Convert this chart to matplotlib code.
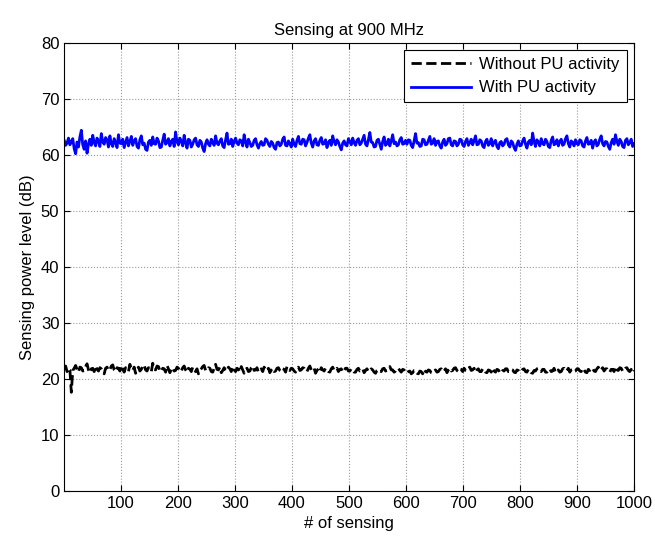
import numpy as np
import matplotlib
matplotlib.use("Agg")
import matplotlib.pyplot as plt

plt.rcParams['font.family'] = ['Liberation Sans', 'DejaVu Sans']

# sensing power level (dB), 40 readings per 100 sensings
with_pu = [
    62.6, 61.7, 62.1, 63.0, 61.8, 62.4, 62.9, 61.1, 60.2, 62.3, 61.4, 63.2, 64.4, 61.8, 61.0, 62.5, 60.3, 61.9, 62.8, 61.7,
    63.5, 62.2, 61.6, 63.0, 62.4, 61.5, 63.8, 62.3, 61.9, 63.1, 62.7, 61.4, 63.4, 62.0, 61.5, 62.9, 62.2, 61.3, 63.6, 62.1,
    62.0, 62.8, 61.3, 62.2, 63.1, 61.6, 62.4, 63.3, 61.7, 62.5, 62.9, 61.5, 61.2, 62.7, 63.4, 61.8, 62.1, 61.0, 60.8, 62.3,
    62.6, 61.7, 63.2, 62.0, 61.9, 63.0, 62.5, 61.3, 61.4, 62.6, 63.7, 61.9, 62.2, 62.9, 61.6, 62.4, 62.8, 61.5, 64.1, 62.3,
    61.8, 63.0, 62.4, 61.6, 63.5, 62.2, 61.2, 62.8, 62.6, 61.4, 61.9, 62.7, 63.0, 61.8, 61.5, 62.6, 62.3, 61.2, 60.6, 62.0,
    62.7, 61.9, 61.6, 62.8, 62.2, 61.7, 63.4, 62.1, 61.8, 62.5, 62.9, 61.6, 61.3, 62.7, 63.9, 61.9, 62.0, 62.8, 61.5, 62.4,
    63.0, 62.1, 61.8, 62.7, 62.5, 61.6, 63.6, 62.3, 61.4, 62.8, 62.2, 61.5, 61.7, 62.6, 62.9, 61.8, 61.2, 62.0, 62.4, 61.7,
    61.8, 62.9, 62.6, 61.9, 61.5, 62.4, 62.1, 61.3, 61.0, 62.2, 62.3, 61.6, 61.9, 62.8, 63.2, 61.7, 61.6, 62.5, 62.0, 61.4,
    62.8, 61.9, 61.5, 62.6, 63.3, 62.0, 61.9, 62.8, 62.7, 61.6, 62.2, 63.0, 63.6, 62.1, 61.4, 62.5, 62.9, 61.8, 61.7, 62.6,
    63.1, 61.9, 62.0, 62.7, 61.3, 62.2, 62.6, 61.7, 63.4, 62.4, 61.8, 62.7, 62.3, 61.5, 60.9, 62.1, 62.5, 61.8, 61.6, 62.9,
    62.4, 61.8, 63.0, 62.2, 61.7, 62.6, 62.9, 61.8, 62.1, 62.8, 63.5, 61.9, 61.6, 62.7, 64.0, 62.3, 62.2, 61.4, 61.5, 62.6,
    62.8, 61.9, 61.0, 62.4, 63.2, 61.7, 62.0, 62.8, 61.6, 62.5, 63.6, 62.0, 62.3, 61.6, 61.8, 62.7, 63.1, 61.9, 62.0, 62.6,
    61.9, 62.7, 62.6, 61.7, 61.3, 62.5, 63.8, 62.1, 62.2, 61.5, 61.6, 62.8, 62.7, 61.8, 61.9, 62.6, 63.3, 61.9, 62.1, 62.9,
    61.7, 62.4, 62.5, 61.6, 61.2, 62.3, 62.8, 61.7, 62.0, 62.9, 63.0, 61.8, 61.6, 62.5, 62.4, 61.6, 61.9, 62.8, 62.7, 61.8,
    61.5, 62.4, 62.9, 61.7, 62.2, 62.8, 61.8, 62.5, 63.4, 61.8, 61.9, 62.7, 62.5, 61.6, 61.3, 62.4, 62.8, 61.7, 62.0, 62.9,
    61.6, 62.3, 62.6, 61.5, 61.1, 62.2, 62.4, 61.6, 61.9, 62.7, 62.9, 61.8, 61.4, 62.5, 62.2, 61.3, 60.8, 61.9, 62.5, 61.6,
    61.7, 62.5, 63.0, 61.9, 61.2, 62.3, 62.6, 61.8, 63.9, 62.4, 61.5, 62.7, 62.3, 61.6, 62.9, 62.0, 61.8, 62.8, 62.4, 61.5,
    61.3, 62.6, 63.2, 61.8, 62.0, 62.7, 61.6, 62.4, 62.8, 61.7, 61.9, 62.9, 63.4, 62.0, 61.4, 62.5, 62.2, 61.6, 62.7, 62.0,
    61.8, 62.7, 62.5, 61.6, 61.4, 62.5, 63.1, 61.9, 62.0, 62.6, 61.2, 62.3, 62.7, 61.6, 61.9, 62.8, 63.4, 62.0, 61.6, 62.4,
    62.3, 61.5, 61.0, 62.2, 62.8, 61.9, 63.6, 62.4, 61.7, 62.8, 62.4, 61.5, 61.3, 62.6, 62.9, 61.8, 62.2, 62.8, 61.5, 62.0,
]
without_pu = [
    21.8, 22.3, 21.3, 21.9, 21.6, 17.6, 21.5, 21.9, 22.4, 21.7, 21.2, 22.1, 22.0, 21.4, 21.5, 22.2, 22.7, 21.6, 21.1, 21.8,
    21.9, 21.3, 22.3, 21.7, 21.4, 22.0, 21.8, 21.2, 20.9, 21.9, 22.1, 21.5, 21.6, 22.3, 22.5, 21.6, 21.3, 22.0, 21.9, 21.4,
    22.4, 21.7, 21.2, 22.0, 21.8, 21.3, 22.6, 21.8, 21.5, 22.1, 21.0, 21.6, 22.1, 21.4, 21.7, 22.3, 22.5, 21.6, 21.4, 22.0,
    21.9, 21.3, 22.8, 21.7, 21.6, 22.3, 22.2, 21.5, 21.3, 21.9, 21.8, 21.2, 22.4, 21.8, 21.1, 21.7, 22.0, 21.4, 21.5, 22.1,
    21.9, 21.3, 21.4, 22.0, 22.3, 21.6, 21.2, 21.9, 21.7, 21.3, 22.1, 21.6, 21.3, 21.8, 20.9, 21.5, 21.8, 22.2, 22.4, 21.5,
    21.5, 22.0, 21.9, 21.3, 21.2, 21.9, 22.6, 21.7, 21.6, 22.1, 21.1, 21.5, 22.0, 21.6, 21.4, 22.1, 21.8, 21.3, 22.2, 21.6,
    21.3, 21.9, 21.7, 21.2, 22.2, 21.6, 21.0, 21.7, 21.9, 21.3, 21.4, 22.0, 22.3, 21.5, 21.6, 22.0, 21.2, 21.6, 21.8, 21.3,
    22.1, 21.6, 21.5, 21.9, 21.1, 21.6, 21.9, 21.3, 21.4, 21.9, 22.0, 21.5, 21.3, 21.8, 21.7, 21.2, 22.2, 21.7, 21.5, 21.9,
    21.8, 21.4, 21.2, 21.8, 22.1, 21.5, 21.6, 22.0, 21.9, 21.4, 21.3, 21.9, 22.3, 21.6, 21.5, 21.9, 21.0, 21.5, 21.8, 21.3,
    22.0, 21.6, 21.4, 21.9, 21.7, 21.3, 21.2, 21.8, 22.1, 21.5, 21.6, 21.9, 21.3, 21.7, 21.8, 21.2, 21.5, 21.9, 21.9, 21.4,
    21.4, 21.8, 21.7, 21.2, 21.2, 21.7, 21.9, 21.4, 21.5, 21.8, 21.1, 21.5, 21.8, 21.3, 21.4, 21.8, 21.6, 21.2, 21.0, 21.5,
    21.7, 21.4, 21.3, 21.8, 21.9, 21.4, 21.5, 21.9, 22.2, 21.6, 21.6, 21.2, 21.4, 21.8, 21.9, 21.5, 21.2, 21.7, 21.6, 21.2,
    21.0, 21.3, 21.4, 20.9, 21.1, 21.5, 21.5, 21.0, 20.9, 21.4, 21.3, 20.9, 21.7, 21.3, 21.2, 21.6, 21.5, 21.1, 21.0, 21.4,
    21.6, 21.2, 21.3, 21.7, 21.8, 21.3, 21.4, 21.8, 21.1, 21.6, 21.9, 21.4, 21.5, 21.9, 22.0, 21.5, 21.3, 21.8, 21.7, 21.3,
    21.9, 21.5, 21.4, 21.9, 22.1, 21.5, 21.6, 21.9, 21.2, 21.6, 21.8, 21.3, 21.3, 21.8, 21.7, 21.2, 21.1, 21.6, 21.5, 21.2,
    21.9, 21.4, 21.2, 21.7, 21.6, 21.2, 21.0, 21.5, 21.4, 21.8, 21.8, 21.3, 21.3, 21.7, 21.6, 21.2, 21.1, 21.6, 21.5, 21.2,
    21.3, 21.7, 21.8, 21.3, 21.2, 21.7, 21.6, 21.1, 21.0, 21.5, 21.4, 21.8, 21.9, 21.4, 21.3, 21.7, 21.7, 21.2, 21.2, 21.6,
    21.8, 21.3, 21.4, 21.9, 21.1, 21.5, 21.6, 21.2, 21.3, 21.8, 21.9, 21.4, 21.5, 21.9, 21.2, 21.6, 21.7, 21.3, 21.4, 21.8,
    21.8, 21.4, 21.3, 21.9, 21.6, 21.2, 21.1, 21.7, 21.5, 21.9, 21.9, 21.4, 21.3, 21.8, 22.1, 21.5, 21.6, 22.0, 21.4, 21.8,
    21.8, 21.3, 21.2, 21.7, 21.7, 21.3, 22.2, 21.6, 21.5, 22.0, 21.9, 21.4, 21.4, 21.9, 22.0, 21.5, 21.3, 21.7, 21.1, 21.5,
]
sensing_pu = np.linspace(1, 1000, len(with_pu))
sensing_nopu = np.linspace(1, 1000, len(without_pu))

xticks = [100, 200, 300, 400, 500, 600, 700, 800, 900, 1000]
yticks = [0, 10, 20, 30, 40, 50, 60, 70, 80]

fig = plt.figure(figsize=(6.55, 5.43), dpi=100)
ax = fig.add_axes([0.098, 0.096, 0.870, 0.825])

ax.plot(sensing_nopu, without_pu, '--', color='black', linewidth=2, label='Without PU activity')
ax.plot(sensing_pu, with_pu, '-', color='blue', linewidth=2, label='With PU activity')

ax.set_xlim(1, 1000)
ax.set_ylim(0, 80)
ax.set_xticks(xticks)
ax.set_yticks(yticks)
ax.tick_params(direction='in', top=True, right=True, length=4, labelsize=12)
ax.grid(True, linestyle=':', color='#999999', linewidth=0.8)

ax.set_title('Sensing at 900 MHz', fontsize=12)
ax.set_xlabel('# of sensing', fontsize=12)
ax.set_ylabel('Sensing power level (dB)', fontsize=12)

leg = ax.legend(loc='upper right', fontsize=12, fancybox=False, framealpha=1,
                edgecolor='black', borderaxespad=0.45, handlelength=3.6,
                handletextpad=0.5)
leg.get_frame().set_linewidth(0.8)

fig.savefig('out.png', dpi=100)
